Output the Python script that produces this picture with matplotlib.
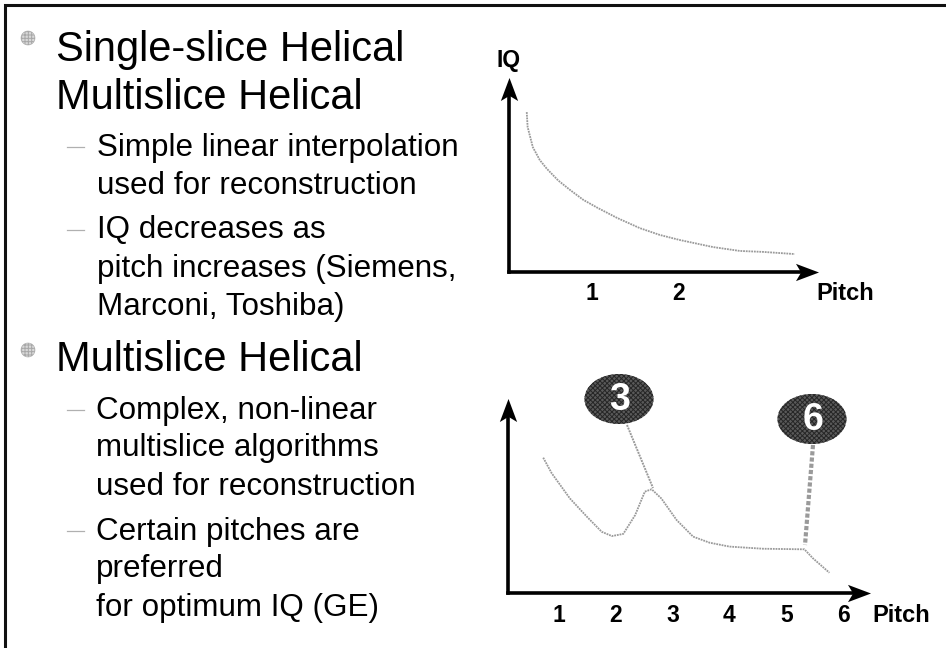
import matplotlib
matplotlib.use("Agg")
import matplotlib.pyplot as plt
from matplotlib.patches import Ellipse, Circle
from matplotlib.path import Path

plt.rcParams['font.family'] = ['Liberation Sans', 'DejaVu Sans']
plt.rcParams['hatch.linewidth'] = 0.7

W, H = 946, 648

# Data: top chart
top_pitch = [0.25, 0.26, 0.32, 0.40, 0.48, 0.61, 0.75, 0.90, 1.06, 1.29, 1.55, 1.78, 2.01, 2.39, 2.70, 2.97, 3.33]
top_iq = [82, 74.4, 64, 57.4, 53, 47, 42, 37, 33, 27.7, 22.5, 19, 16.4, 12.8, 10.8, 10.3, 9.2]
top_ticks = [1, 2]

# Data: bottom chart
bot_pitch = [0.72, 0.87, 1.19, 1.49, 1.75, 1.93, 2.13, 2.34, 2.51, 2.63, 2.80,
             3.07, 3.36, 3.65, 4.00, 4.59, 5.32, 5.47, 5.76]
bot_iq = [69.4, 61.4, 48.5, 39.1, 31.4, 29.2, 30.3, 40, 52, 53.2, 48.5,
          37.4, 28.9, 25.8, 23.8, 22.7, 22.4, 17.8, 10.4]
bot_ticks = [1, 2, 3, 4, 5, 6]

heading_lines = [("Single-slice Helical", 56, 61), ("Multislice Helical", 56, 109),
                 ("Multislice Helical", 56, 371)]
sub_lines = [("Simple linear interpolation", 97, 156), ("used for reconstruction", 97, 194),
             ("IQ decreases as", 97, 238), ("pitch increases (Siemens,", 97, 277),
             ("Marconi, Toshiba)", 97, 315),
             ("Complex, non-linear", 96, 419), ("multislice algorithms", 96, 456),
             ("used for reconstruction", 96, 495), ("Certain pitches are", 96, 540),
             ("preferred", 96, 577), ("for optimum IQ (GE)", 96, 616)]
bullet_ys = [38, 350]
dash_ys = [147, 230, 410, 531]

fig = plt.figure(figsize=(W / 100, H / 100), dpi=100, facecolor='white')
bg = fig.add_axes([0, 0, 1, 1])
bg.set_xlim(0, W)
bg.set_ylim(H, 0)
bg.axis('off')

bg.plot([5, 5, W], [H, 5, 5], color='#111111', lw=2.2, solid_joinstyle='miter')

for t, x, y in heading_lines:
    bg.text(x, y, t, fontsize=30, va='baseline', ha='left', color='black')
for t, x, y in sub_lines:
    bg.text(x, y, t, fontsize=22.6, va='baseline', ha='left', color='black')
for y in bullet_ys:
    bg.add_patch(Circle((28, y), 7, fc='#d8d8d8', ec='#a8a8a8', lw=0.4, hatch='+++++'))
for y in dash_ys:
    bg.plot([67, 84], [y, y], color='#b0b0b0', lw=0.9)

head_r = Path([(1, 0), (-1, 0.75), (-0.55, 0), (-1, -0.75), (1, 0)],
              [Path.MOVETO, Path.LINETO, Path.LINETO, Path.LINETO, Path.CLOSEPOLY])
head_u = Path([(0, 1), (0.75, -1), (0, -0.55), (-0.75, -1), (0, 1)],
              [Path.MOVETO, Path.LINETO, Path.LINETO, Path.LINETO, Path.CLOSEPOLY])


def chart(left, right, top, bottom, xlim, pitch, iq):
    ax = fig.add_axes([left / W, 1 - bottom / H, (right - left) / W, (bottom - top) / H])
    ax.set_xlim(*xlim)
    ax.set_ylim(0, 100)
    ax.patch.set_alpha(0)
    ax.axis('off')
    ax.plot(pitch, iq, color='#9a9a9a', lw=1.3, ls=(0, (1, 0.5)))
    t = ax.transAxes
    ax.plot([0, 0.96], [0, 0], color='black', lw=2.6, transform=t, clip_on=False, solid_capstyle='projecting')
    ax.plot([0, 0], [0, 0.93], color='black', lw=2.6, transform=t, clip_on=False, solid_capstyle='projecting')
    dx = 11.5 / (right - left)
    dy = 11.5 / (bottom - top)
    ax.plot([1 - dx], [0], marker=head_r, ms=16.6, color='black', mew=0, transform=t, clip_on=False)
    ax.plot([0], [1 - dy], marker=head_u, ms=16.6, color='black', mew=0, transform=t, clip_on=False)
    return ax


ax1 = chart(509, 818, 77, 272, (0.046, 3.598), top_pitch, top_iq)
ax2 = chart(508, 870, 398, 593, (0.10, 6.475), bot_pitch, bot_iq)

for v in top_ticks:
    ax1.annotate(str(v), xy=(v, 0), xycoords=('data', 'axes fraction'), xytext=(0, -21 * .72),
                 textcoords='offset points', ha='center', va='center', fontsize=16.5, fontweight='bold')
for v in bot_ticks:
    ax2.annotate(str(v), xy=(v, 0), xycoords=('data', 'axes fraction'), xytext=(0, -23 * .72),
                 textcoords='offset points', ha='center', va='center', fontsize=16.5, fontweight='bold')

bg.text(509, 61, "IQ", fontsize=16.5, fontweight='bold', ha='center', va='center')
bg.text(845, 293, "Pitch", fontsize=17, fontweight='bold', ha='center', va='center')
bg.text(901, 616, "Pitch", fontsize=17, fontweight='bold', ha='center', va='center')

# Call-outs
for label, cx, cy, x0, y0, x1, y1, lw in [("3", 619, 399, 627, 425, 653, 488, 1.4),
                                          ("6", 812, 419, 813, 445, 805, 545, 3)]:
    bg.plot([x0, x1], [y0, y1], color='#9a9a9a', lw=lw, ls=(0, (1, 0.5)), zorder=4)
    bg.add_patch(Ellipse((cx, cy), 69, 50, fc='#5a5a5a', ec='#262626', lw=0, hatch='xxxxxxx', zorder=5))
    bg.text(cx + 1, cy + 1, label, color='white', fontsize=27, fontweight='bold', ha='center', va='center', zorder=6)

fig.savefig('out.png', dpi=100)
